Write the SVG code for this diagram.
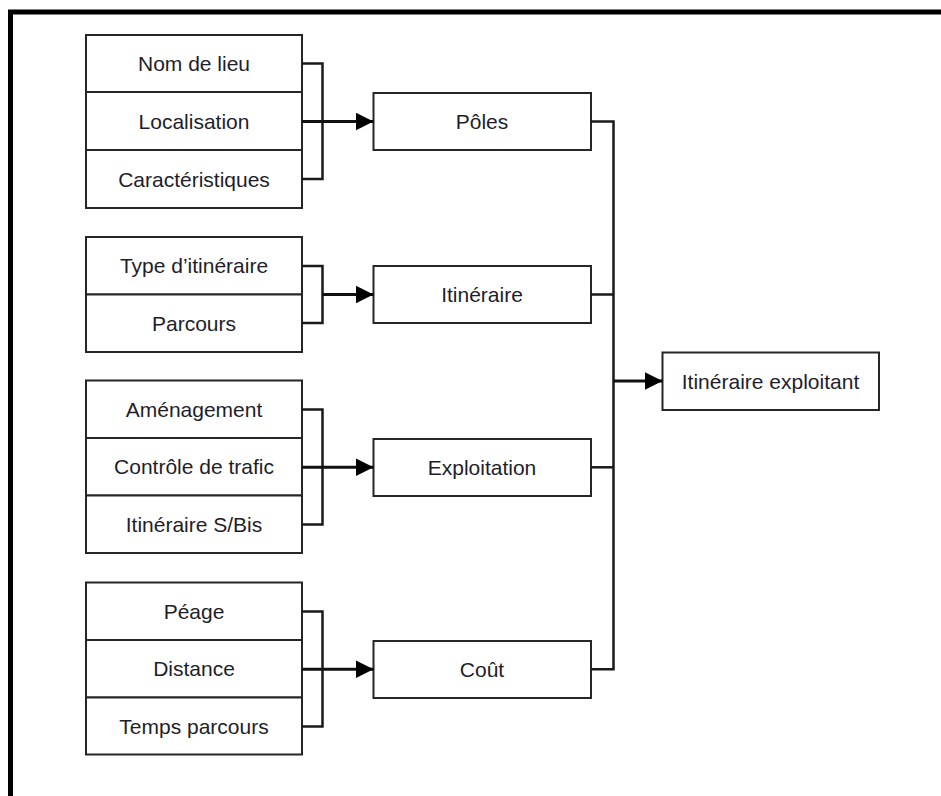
<svg xmlns="http://www.w3.org/2000/svg" width="941" height="796" viewBox="0 0 941 796">
  <style>
    .box { fill: #ffffff; stroke: #262626; stroke-width: 2; }
    .lbl { font-family: "Liberation Sans", Arial, sans-serif; font-size: 21px; fill: #1e1e2a; text-anchor: middle; }
    .wire { fill: none; stroke: #1a1a1a; stroke-width: 2.5; }
    .flow { fill: none; stroke: #111111; stroke-width: 3; marker-end: url(#head); }
    .frame { fill: none; stroke: #000000; stroke-width: 5; }
  </style>
  <defs>
    <marker id="head" markerUnits="userSpaceOnUse" markerWidth="20" markerHeight="20" refX="18" refY="9" orient="auto">
      <path d="M0,0 L18,9 L0,18 Z" fill="#000000"/>
    </marker>
  </defs>

  <rect width="941" height="796" fill="#ffffff"/>

  <!-- page frame: top and left rules -->
  <path class="frame" d="M10.5,796 V12 H941"/>

  <!-- group 1: place attributes -->
  <g id="nom-de-lieu"><rect class="box" x="86" y="35" width="216" height="57"/><text class="lbl" x="194" y="71">Nom de lieu</text></g>
  <g id="localisation"><rect class="box" x="86" y="92" width="216" height="58"/><text class="lbl" x="194" y="128.5">Localisation</text></g>
  <g id="caracteristiques"><rect class="box" x="86" y="150" width="216" height="58"/><text class="lbl" x="194" y="186.5">Caractéristiques</text></g>

  <!-- group 2: route attributes -->
  <g id="type-itineraire"><rect class="box" x="86" y="237" width="216" height="57.5"/><text class="lbl" x="194" y="273">Type d’itinéraire</text></g>
  <g id="parcours"><rect class="box" x="86" y="294.5" width="216" height="57.5"/><text class="lbl" x="194" y="330.5">Parcours</text></g>

  <!-- group 3: operation attributes -->
  <g id="amenagement"><rect class="box" x="86" y="380.5" width="216" height="57.5"/><text class="lbl" x="194" y="416.5">Aménagement</text></g>
  <g id="controle-trafic"><rect class="box" x="86" y="438" width="216" height="57.5"/><text class="lbl" x="194" y="474">Contrôle de trafic</text></g>
  <g id="itineraire-sbis"><rect class="box" x="86" y="495.5" width="216" height="57.5"/><text class="lbl" x="194" y="531.5">Itinéraire S/Bis</text></g>

  <!-- group 4: cost attributes -->
  <g id="peage"><rect class="box" x="86" y="582.5" width="216" height="57.5"/><text class="lbl" x="194" y="618.5">Péage</text></g>
  <g id="distance"><rect class="box" x="86" y="640" width="216" height="57.5"/><text class="lbl" x="194" y="676">Distance</text></g>
  <g id="temps-parcours"><rect class="box" x="86" y="697.5" width="216" height="57"/><text class="lbl" x="194" y="733.5">Temps parcours</text></g>

  <!-- intermediate categories -->
  <g id="poles"><rect class="box" x="373.5" y="93" width="217.5" height="57"/><text class="lbl" x="482" y="129">Pôles</text></g>
  <g id="itineraire"><rect class="box" x="373.5" y="266" width="217.5" height="57"/><text class="lbl" x="482" y="302">Itinéraire</text></g>
  <g id="exploitation"><rect class="box" x="373.5" y="439" width="217.5" height="57"/><text class="lbl" x="482" y="475">Exploitation</text></g>
  <g id="cout"><rect class="box" x="373.5" y="641" width="217.5" height="57"/><text class="lbl" x="482" y="677">Coût</text></g>

  <!-- result -->
  <g id="itineraire-exploitant"><rect class="box" x="662.5" y="352.5" width="216.5" height="57.5"/><text class="lbl" x="770.5" y="388.5">Itinéraire exploitant</text></g>

  <g id="connectors">
    <!-- brackets gathering each attribute group -->
    <path class="wire" d="M302,63.5 H322.5 V179 H302"/>
    <path class="wire" d="M302,266 H322.5 V323 H302"/>
    <path class="wire" d="M302,409.5 H322.5 V524.5 H302"/>
    <path class="wire" d="M302,611.5 H322.5 V726.5 H302"/>
    <!-- arrows into the categories -->
    <path class="flow" d="M302,121.5 H373.5"/>
    <path class="flow" d="M322.5,294.5 H373.5"/>
    <path class="flow" d="M302,467.3 H373.5"/>
    <path class="flow" d="M302,669.3 H373.5"/>
    <!-- categories merged into the result -->
    <path class="wire" d="M591,121.5 H613.5 V669.3 H591"/>
    <path class="wire" d="M591,294.5 H613.5"/>
    <path class="wire" d="M591,467.3 H613.5"/>
    <path class="flow" d="M613.5,381 H662.5"/>
  </g>
</svg>
